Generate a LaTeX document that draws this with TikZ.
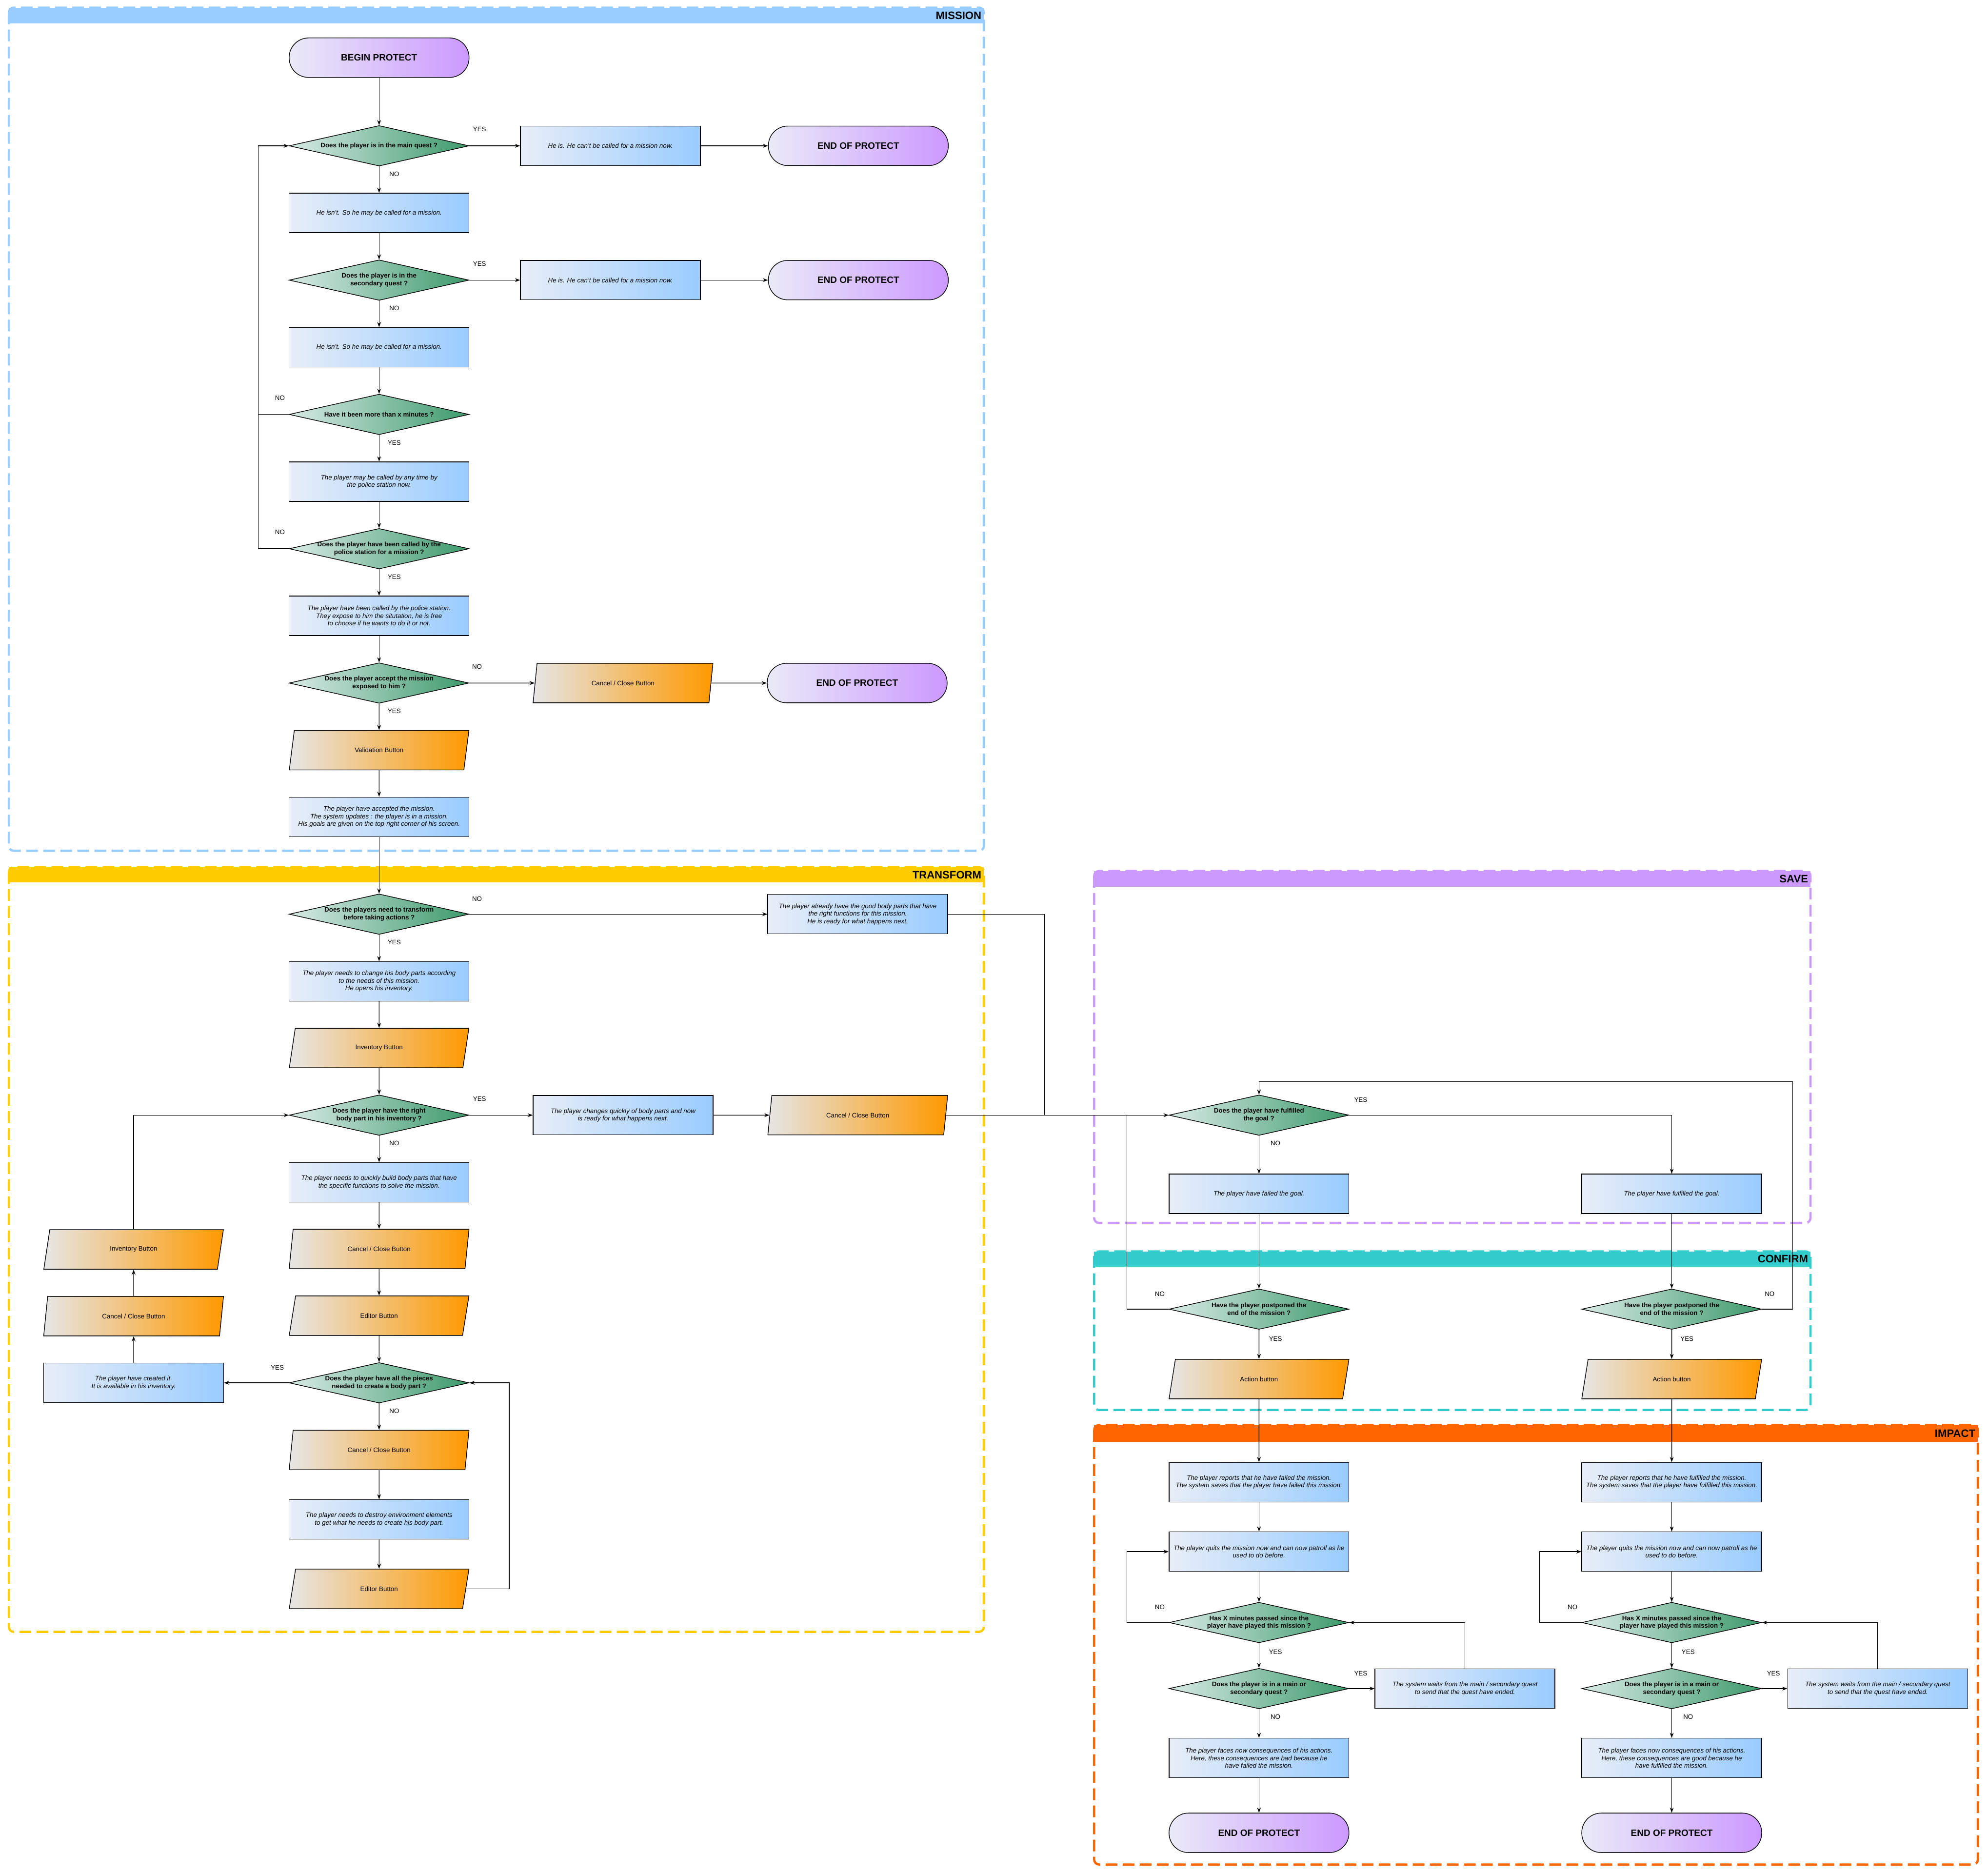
\documentclass[tikz,border=0pt]{standalone}
\usepackage{fontspec}
\setmainfont{Liberation Sans}
\usetikzlibrary{arrows.meta, positioning, shapes.geometric}

\definecolor{procL}{HTML}{E8EEF8}
\definecolor{procR}{HTML}{99CCFF}
\definecolor{decL}{HTML}{D8EAE6}
\definecolor{decR}{HTML}{3D9A6C}
\definecolor{btnL}{HTML}{E6E6E6}
\definecolor{btnR}{HTML}{FF9900}
\definecolor{termL}{HTML}{EAEAF8}
\definecolor{termR}{HTML}{CC99FF}
\definecolor{missionC}{HTML}{99CCFF}
\definecolor{transformC}{HTML}{FFCC00}
\definecolor{saveC}{HTML}{CC99FF}
\definecolor{confirmC}{HTML}{33CCCC}
\definecolor{impactC}{HTML}{FF6600}

\begin{document}
\begin{tikzpicture}[
  x=0.026cm, y=-0.026cm,
  node distance=5.43mm,
  proc/.style={draw, line width=0.4pt, left color=procL, right color=procR,
    minimum width=3.69cm, minimum height=0.81cm, inner sep=0.5pt, align=center,
    font=\fontsize{3.8}{4.4}\selectfont\itshape},
  btn/.style={trapezium, trapezium left angle=77, trapezium right angle=103,
    trapezium stretches=true, draw, line width=0.4pt, left color=btnL, right color=btnR,
    minimum width=3.69cm, minimum height=0.81cm, inner sep=0.5pt,
    font=\fontsize{3.8}{4.4}\selectfont},
  dec/.style={diamond, draw, line width=0.4pt, left color=decL, right color=decR,
    minimum width=3.69cm, minimum height=0.83cm, inner sep=0pt},
  dectext/.style={align=center, inner sep=0pt, font=\fontsize{3.8}{4.5}\selectfont\bfseries},
  term/.style={draw, line width=0.4pt, rounded corners=0.4cm, left color=termL, right color=termR,
    minimum width=3.69cm, minimum height=0.81cm, font=\fontsize{5.4}{6}\selectfont\bfseries},
  lbl/.style={inner sep=0pt, font=\fontsize{3.8}{4.4}\selectfont},
  lanetitle/.style={anchor=east, inner sep=0.5pt, font=\fontsize{6.3}{7}\selectfont\bfseries},
  lane/.style={dash pattern=on 0.24cm off 0.11cm, line width=1.3pt, rounded corners=0.1cm},
  arrow/.style={-{Stealth[length=3pt, width=2.2pt]}, line width=0.4pt},
  line/.style={line width=0.4pt}
]
\path[use as bounding box, fill=white] (0,0) rectangle (1568,1477);

% lanes
\draw[lane, missionC] (7,6) rectangle (776,671);
\fill[missionC] (7,6) rectangle (776,18.5);
\node[lanetitle] (missionT) at (775,12.3) {MISSION};

\draw[lane, transformC] (7,684) rectangle (776,1287);
\fill[transformC] (7,684) rectangle (776,696);
\node[lanetitle] (transformT) at (775,690) {TRANSFORM};

\draw[lane, saveC] (863,687) rectangle (1428,964.5);
\fill[saveC] (863,687) rectangle (1428,699.5);
\node[lanetitle] (saveT) at (1427,693.2) {SAVE};

\draw[lane, confirmC] (863,987) rectangle (1428,1112);
\fill[confirmC] (863,987) rectangle (1428,999);
\node[lanetitle] (confirmT) at (1427,993) {CONFIRM};

\draw[lane, impactC] (863,1124) rectangle (1560,1470.5);
\fill[impactC] (863,1124) rectangle (1560,1137);
\node[lanetitle] (impactT) at (1559,1130.5) {IMPACT};

% mission
\node[term] (begin) at (299,45.5) {BEGIN PROTECT};
\node[dec] (d1) at (299,115) {};
\node[dectext] (d1t) at (d1) {Does the player is in the main quest ?};
\node[proc, right=1.04cm of d1] (nocall1) {He is. He can't be called for a mission now.};
\node[term, right=1.38cm of nocall1] (end1) {END OF PROTECT};
\node[proc, below=of d1] (ok1) {He isn't. So he may be called for a mission.};
\node[dec, below=of ok1] (d2) {};
\node[dectext] (d2t) at (d2) {Does the player is in the\\secondary quest ?};
\node[proc, right=1.04cm of d2] (nocall2) {He is. He can't be called for a mission now.};
\node[term, right=1.38cm of nocall2] (end2) {END OF PROTECT};
\node[proc, below=of d2] (ok2) {He isn't. So he may be called for a mission.};
\node[dec, below=of ok2] (d3) {};
\node[dectext] (d3t) at (d3) {Have it been more than x minutes ?};
\node[proc, below=of d3] (may) {The player may be called by any time by\\the police station now.};
\node[dec, below=of may] (d4) {};
\node[dectext] (d4t) at (d4) {Does the player have been called by the\\police station for a mission ?};
\node[proc, below=of d4] (called) {The player have been called by the police station.\\They expose to him the situtation, he is free\\to choose if he wants to do it or not.};
\node[dec, below=of called] (d5) {};
\node[dectext] (d5t) at (d5) {Does the player accept the mission\\exposed to him ?};
\node[btn, right=1.34cm of d5] (cancel1) {Cancel / Close Button};
\node[term, right=1.14cm of cancel1] (end3) {END OF PROTECT};
\node[btn, below=of d5] (valid) {Validation Button};
\node[proc, below=of valid] (accepted) {The player have accepted the mission.\\The system updates : the player is in a mission.\\His goals are given on the top-right corner of his screen.};

\node[lbl] (d1yes) at ([shift={(8,-13)}]d1.east) {YES};
\node[lbl] (d1no) at ([shift={(12,6)}]d1.south) {NO};
\node[lbl] (d2yes) at ([shift={(8,-13)}]d2.east) {YES};
\node[lbl] (d2no) at ([shift={(12,6)}]d2.south) {NO};
\node[lbl] (d3no) at ([shift={(-7,-13)}]d3.west) {NO};
\node[lbl] (d3yes) at ([shift={(12,6)}]d3.south) {YES};
\node[lbl] (d4no) at ([shift={(-7,-13)}]d4.west) {NO};
\node[lbl] (d4yes) at ([shift={(12,6)}]d4.south) {YES};
\node[lbl] (d5no) at ([shift={(6,-13)}]d5.east) {NO};
\node[lbl] (d5yes) at ([shift={(12,6)}]d5.south) {YES};

\coordinate (loopM) at ([xshift=-0.624cm]d1.west);
\draw[arrow] (begin) -- (d1);
\draw[arrow] (d1) -- (nocall1);
\draw[arrow] (nocall1) -- (end1);
\draw[arrow] (d1) -- (ok1);
\draw[arrow] (ok1) -- (d2);
\draw[arrow] (d2) -- (nocall2);
\draw[arrow] (nocall2) -- (end2);
\draw[arrow] (d2) -- (ok2);
\draw[arrow] (ok2) -- (d3);
\draw[arrow] (d3) -- (may);
\draw[arrow] (d3.west) -| (loopM) -- (d1.west);
\draw[line] (d4.west) -| (loopM);
\draw[arrow] (may) -- (d4);
\draw[arrow] (d4) -- (called);
\draw[arrow] (called) -- (d5);
\draw[arrow] (d5) -- (cancel1);
\draw[arrow] (cancel1) -- (end3);
\draw[arrow] (d5) -- (valid);
\draw[arrow] (valid) -- (accepted);

% transform
\node[dec] (d6) at (299,721) {};
\node[dectext] (d6t) at (d6) {Does the players need to transform\\before taking actions ?};
\node[proc, below=of d6] (needs) {The player needs to change his body parts according\\to the needs of this mission.\\He opens his inventory.};
\node[btn, below=of needs] (invA) {Inventory Button};
\node[dec, below=of invA] (d7) {};
\node[dectext] (d7t) at (d7) {Does the player have the right\\body part in his inventory ?};
\node[proc, right=1.3cm of d7] (changes) {The player changes quickly of body parts and now\\is ready for what happens next.};
\node[btn, right=1.15cm of changes] (cancel2) {Cancel / Close Button};
\node[proc] (already) at (d6 -| cancel2) {The player already have the good body parts that have\\the right functions for this mission.\\He is ready for what happens next.};
\node[proc, below=of d7] (build) {The player needs to quickly build body parts that have\\the specific functions to solve the mission.};
\node[btn, below=of build] (cancelB) {Cancel / Close Button};
\node[btn, below=of cancelB] (editorA) {Editor Button};
\node[dec, below=of editorA] (d8) {};
\node[dectext] (d8t) at (d8) {Does the player have all the pieces\\needed to create a body part ?};
\node[proc, left=1.33cm of d8] (created) {The player have created it.\\It is available in his inventory.};
\node[btn, above=of created] (cancelC) {Cancel / Close Button};
\node[btn, above=of cancelC] (invB) {Inventory Button};
\node[btn, below=of d8] (cancelD) {Cancel / Close Button};
\node[proc, below=0.6cm of cancelD] (destroy) {The player needs to destroy environment elements\\to get what he needs to create his body part.};
\node[btn, below=0.6cm of destroy] (editorB) {Editor Button};

\node[lbl] (d6no) at ([shift={(6,-12)}]d6.east) {NO};
\node[lbl] (d6yes) at ([shift={(12,6)}]d6.south) {YES};
\node[lbl] (d7yes) at ([shift={(8,-13)}]d7.east) {YES};
\node[lbl] (d7no) at ([shift={(12,6)}]d7.south) {NO};
\node[lbl] (d8yes) at ([shift={(-9,-12)}]d8.west) {YES};
\node[lbl] (d8no) at ([shift={(12,6)}]d8.south) {NO};

\draw[arrow] (accepted) -- (d6);
\draw[arrow] (d6) -- (already);
\draw[arrow] (d6) -- (needs);
\draw[arrow] (needs) -- (invA);
\draw[arrow] (invA) -- (d7);
\draw[arrow] (d7) -- (changes);
\draw[arrow] (changes) -- (cancel2);
\draw[arrow] (d7) -- (build);
\draw[arrow] (build) -- (cancelB);
\draw[arrow] (cancelB) -- (editorA);
\draw[arrow] (editorA) -- (d8);
\draw[arrow] (d8) -- (created);
\draw[arrow] (created) -- (cancelC);
\draw[arrow] (cancelC) -- (invB);
\draw[arrow] (invB.north) |- (d7.west);
\draw[arrow] (d8) -- (cancelD);
\draw[arrow] (cancelD) -- (destroy);
\draw[arrow] (destroy) -- (editorB);
\draw[arrow] (editorB.east) -- ++(34,0) |- (d8.east);

% save
\coordinate (saveX) at (993,0);
\node[dec] (d9) at (d7 -| saveX) {};
\node[dectext] (d9t) at (d9) {Does the player have fulfilled\\the goal ?};
\node[proc, below=0.78cm of d9] (failed) {The player have failed the goal.};
\node[proc, right=4.76cm of failed] (fulfilled) {The player have fulfilled the goal.};

\node[lbl] (d9yes) at ([shift={(9,-12)}]d9.east) {YES};
\node[lbl] (d9no) at ([shift={(13,6)}]d9.south) {NO};

\draw[arrow] (cancel2) -- (d9);
\draw[line] (already.east) -- ++(76,0) |- (d9.west);
\draw[arrow] (d9) -- (failed);
\draw[arrow] (d9.east) -| (fulfilled.north);

% confirm
\node[dec, below=1.53cm of failed] (d10) {};
\node[dectext] (d10t) at (d10) {Have the player postponed the\\end of the mission ?};
\node[dec, below=1.53cm of fulfilled] (d11) {};
\node[dectext] (d11t) at (d11) {Have the player postponed the\\end of the mission ?};
\node[btn, below=0.6cm of d10] (actionL) {Action button};
\node[btn, below=0.6cm of d11] (actionR) {Action button};

\node[lbl] (d10no) at ([shift={(-7,-12)}]d10.west) {NO};
\node[lbl] (d10yes) at ([shift={(13,7)}]d10.south) {YES};
\node[lbl] (d11no) at ([shift={(6,-12)}]d11.east) {NO};
\node[lbl] (d11yes) at ([shift={(12,7)}]d11.south) {YES};

\coordinate (loopS) at (1414,853);
\draw[arrow] (failed) -- (d10);
\draw[arrow] (fulfilled) -- (d11);
\draw[line] (d10.west) -- ++(-33,0) |- (d9.west);
\draw[arrow] (d11.east) -| (loopS) -| (d9.north);
\draw[arrow] (d10) -- (actionL);
\draw[arrow] (d11) -- (actionR);

% impact
\node[proc, below=1.29cm of actionL] (reportL) {The player reports that he have failed the mission.\\The system saves that the player have failed this mission.};
\node[proc, below=0.6cm of reportL] (quitL) {The player quits the mission now and can now patroll as he\\used to do before.};
\node[dec, below=0.62cm of quitL] (d12L) {};
\node[dectext] (d12Lt) at (d12L) {Has X minutes passed since the\\player have played this mission ?};
\node[dec, below=0.51cm of d12L] (d13L) {};
\node[dectext] (d13Lt) at (d13L) {Does the player is in a main or\\secondary quest ?};
\node[proc, right=0.52cm of d13L] (waitL) {The system waits from the main / secondary quest\\to send that the quest have ended.};
\node[proc, below=0.59cm of d13L] (facesL) {The player faces now consequences of his actions.\\Here, these consequences are bad because he\\have failed the mission.};
\node[term, below=0.71cm of facesL] (endL) {END OF PROTECT};

\node[proc, below=1.29cm of actionR] (reportR) {The player reports that he have fulfilled the mission.\\The system saves that the player have fulfilled this mission.};
\node[proc, below=0.6cm of reportR] (quitR) {The player quits the mission now and can now patroll as he\\used to do before.};
\node[dec, below=0.62cm of quitR] (d12R) {};
\node[dectext] (d12Rt) at (d12R) {Has X minutes passed since the\\player have played this mission ?};
\node[dec, below=0.51cm of d12R] (d13R) {};
\node[dectext] (d13Rt) at (d13R) {Does the player is in a main or\\secondary quest ?};
\node[proc, right=0.52cm of d13R] (waitR) {The system waits from the main / secondary quest\\to send that the quest have ended.};
\node[proc, below=0.59cm of d13R] (facesR) {The player faces now consequences of his actions.\\Here, these consequences are good because he\\have fulfilled the mission.};
\node[term, below=0.71cm of facesR] (endR) {END OF PROTECT};

\node[lbl] (d12Lno) at ([shift={(-7,-12)}]d12L.west) {NO};
\node[lbl] (d12Lyes) at ([shift={(13,7)}]d12L.south) {YES};
\node[lbl] (d13Lyes) at ([shift={(9,-12)}]d13L.east) {YES};
\node[lbl] (d13Lno) at ([shift={(13,6)}]d13L.south) {NO};
\node[lbl] (d12Rno) at ([shift={(-7,-12)}]d12R.west) {NO};
\node[lbl] (d12Ryes) at ([shift={(13,7)}]d12R.south) {YES};
\node[lbl] (d13Ryes) at ([shift={(9,-12)}]d13R.east) {YES};
\node[lbl] (d13Rno) at ([shift={(13,6)}]d13R.south) {NO};

\draw[arrow] (actionL) -- (reportL);
\draw[arrow] (reportL) -- (quitL);
\draw[arrow] (quitL) -- (d12L);
\draw[arrow] (d12L) -- (d13L);
\draw[arrow] (d13L) -- (waitL);
\draw[arrow] (waitL.north) |- (d12L.east);
\draw[arrow] (d12L.west) -- ++(-33,0) |- (quitL.west);
\draw[arrow] (d13L) -- (facesL);
\draw[arrow] (facesL) -- (endL);

\draw[arrow] (actionR) -- (reportR);
\draw[arrow] (reportR) -- (quitR);
\draw[arrow] (quitR) -- (d12R);
\draw[arrow] (d12R) -- (d13R);
\draw[arrow] (d13R) -- (waitR);
\draw[arrow] (waitR.north) |- (d12R.east);
\draw[arrow] (d12R.west) -- ++(-33,0) |- (quitR.west);
\draw[arrow] (d13R) -- (facesR);
\draw[arrow] (facesR) -- (endR);
\end{tikzpicture}
\end{document}
